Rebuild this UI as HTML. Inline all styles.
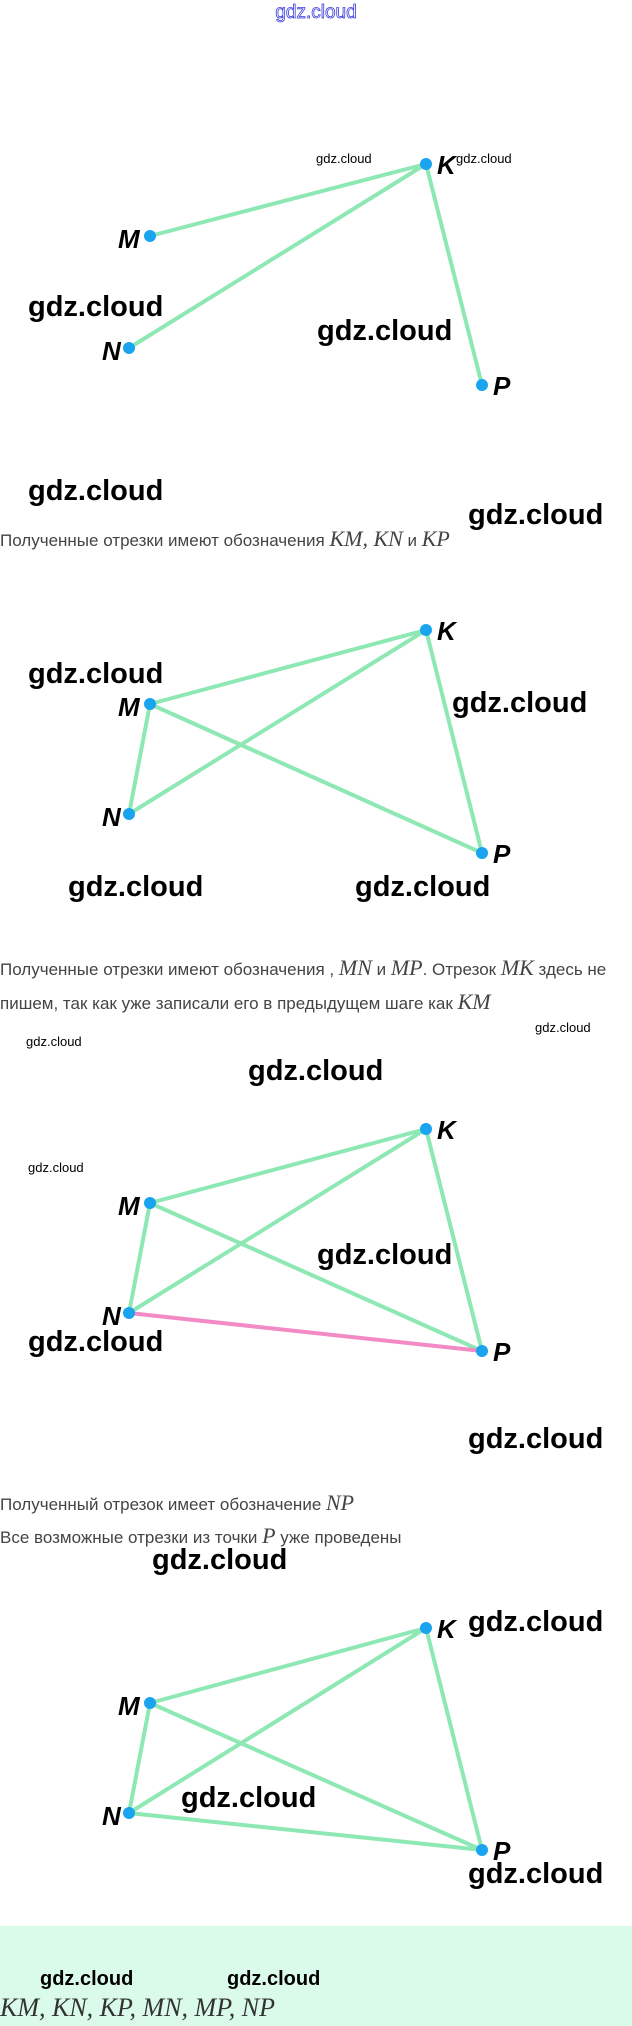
<!DOCTYPE html>
<html><head><meta charset="utf-8"><style>
html,body{margin:0;padding:0;background:#fff;width:632px;height:2026px;overflow:hidden}
svg{display:block}
.w{font-family:"Liberation Sans",sans-serif;font-weight:bold;font-size:29px;fill:#000}
.ws{font-family:"Liberation Sans",sans-serif;font-size:13px;fill:#000}
.l{font-family:"Liberation Sans",sans-serif;font-weight:bold;font-style:italic;font-size:26px;fill:#000}
.t{font-family:"Liberation Sans","Noto Sans CJK SC",sans-serif;font-size:17px;fill:#444}
.m{font-family:"Liberation Serif",serif;font-style:italic;font-size:22px;fill:#444}
.g{stroke:#8ee8b4;stroke-width:4;stroke-linecap:round}
.d{fill:#1aa3ee}
</style></head><body>
<svg width="632" height="2026" xmlns="http://www.w3.org/2000/svg">
<text x="316" y="18" text-anchor="middle" font-family="Liberation Sans,sans-serif" font-size="19" fill="#fff" stroke="#3a3adc" stroke-width="0.8">gdz.cloud</text>

<!-- Section 1 -->
<line class="g" x1="426" y1="164" x2="150" y2="236"/>
<line class="g" x1="426" y1="164" x2="129" y2="348"/>
<line class="g" x1="426" y1="164" x2="482" y2="385"/>
<circle class="d" cx="426" cy="164" r="6"/><circle class="d" cx="150" cy="236" r="6"/><circle class="d" cx="129" cy="348" r="6"/><circle class="d" cx="482" cy="385" r="6"/>
<text class="l" x="437" y="174">K</text><text class="l" x="118" y="248">M</text><text class="l" x="102" y="360">N</text><text class="l" x="493" y="395">P</text>
<text class="ws" x="316" y="163">gdz.cloud</text><text class="ws" x="456" y="163">gdz.cloud</text>
<text class="w" x="28" y="316">gdz.cloud</text><text class="w" x="317" y="340">gdz.cloud</text>
<text class="w" x="28" y="500">gdz.cloud</text><text class="w" x="468" y="524">gdz.cloud</text>
<text class="t" x="0" y="546">Полученные отрезки имеют обозначения <tspan class="m">KM, KN</tspan> и <tspan class="m">KP</tspan></text>

<!-- Section 2 -->
<line class="g" x1="426" y1="630" x2="150" y2="704"/>
<line class="g" x1="426" y1="630" x2="129" y2="814"/>
<line class="g" x1="426" y1="630" x2="482" y2="853"/>
<line class="g" x1="150" y1="704" x2="129" y2="814"/>
<line class="g" x1="150" y1="704" x2="482" y2="853"/>
<circle class="d" cx="426" cy="630" r="6"/><circle class="d" cx="150" cy="704" r="6"/><circle class="d" cx="129" cy="814" r="6"/><circle class="d" cx="482" cy="853" r="6"/>
<text class="l" x="437" y="640">K</text><text class="l" x="118" y="716">M</text><text class="l" x="102" y="826">N</text><text class="l" x="493" y="863">P</text>
<text class="w" x="28" y="683">gdz.cloud</text><text class="w" x="452" y="712">gdz.cloud</text>
<text class="w" x="68" y="896">gdz.cloud</text><text class="w" x="355" y="896">gdz.cloud</text>
<text class="t" x="0" y="975">Полученные отрезки имеют обозначения , <tspan class="m">MN</tspan> и <tspan class="m">MP</tspan>. Отрезок <tspan class="m">MK</tspan> здесь не</text>
<text class="t" x="0" y="1009">пишем, так как уже записали его в предыдущем шаге как <tspan class="m">KM</tspan></text>

<!-- Section 3 -->
<text class="ws" x="26" y="1046">gdz.cloud</text><text class="w" x="248" y="1080">gdz.cloud</text>
<text class="ws" x="535" y="1032">gdz.cloud</text><text class="ws" x="28" y="1172">gdz.cloud</text>
<line class="g" x1="426" y1="1129" x2="150" y2="1203"/>
<line class="g" x1="426" y1="1129" x2="129" y2="1313"/>
<line class="g" x1="426" y1="1129" x2="482" y2="1351"/>
<line class="g" x1="150" y1="1203" x2="129" y2="1313"/>
<line class="g" x1="150" y1="1203" x2="482" y2="1351"/>
<line x1="129" y1="1313" x2="482" y2="1351" stroke="#f28ac6" stroke-width="4" stroke-linecap="round"/>
<circle class="d" cx="426" cy="1129" r="6"/><circle class="d" cx="150" cy="1203" r="6"/><circle class="d" cx="129" cy="1313" r="6"/><circle class="d" cx="482" cy="1351" r="6"/>
<text class="l" x="437" y="1139">K</text><text class="l" x="118" y="1215">M</text><text class="l" x="102" y="1325">N</text><text class="l" x="493" y="1361">P</text>
<text class="w" x="317" y="1264">gdz.cloud</text><text class="w" x="28" y="1351">gdz.cloud</text>
<text class="w" x="468" y="1448">gdz.cloud</text>
<text class="t" x="0" y="1510">Полученный отрезок имеет обозначение <tspan class="m">NP</tspan></text>
<text class="t" x="0" y="1543">Все возможные отрезки из точки <tspan class="m">P</tspan> уже проведены</text>
<text class="w" x="152" y="1569">gdz.cloud</text>

<!-- Section 4 -->
<line class="g" x1="426" y1="1628" x2="150" y2="1703"/>
<line class="g" x1="426" y1="1628" x2="129" y2="1813"/>
<line class="g" x1="426" y1="1628" x2="482" y2="1850"/>
<line class="g" x1="150" y1="1703" x2="129" y2="1813"/>
<line class="g" x1="150" y1="1703" x2="482" y2="1850"/>
<line class="g" x1="129" y1="1813" x2="482" y2="1850"/>
<circle class="d" cx="426" cy="1628" r="6"/><circle class="d" cx="150" cy="1703" r="6"/><circle class="d" cx="129" cy="1813" r="6"/><circle class="d" cx="482" cy="1850" r="6"/>
<text class="l" x="437" y="1638">K</text><text class="l" x="118" y="1715">M</text><text class="l" x="102" y="1825">N</text><text class="l" x="493" y="1860">P</text>
<text class="w" x="468" y="1631">gdz.cloud</text><text class="w" x="181" y="1807">gdz.cloud</text>
<text class="w" x="468" y="1883">gdz.cloud</text>

<rect x="0" y="1926" width="632" height="100" fill="#dafbea"/>
<text class="w" x="40" y="1985" style="font-size:20px">gdz.cloud</text>
<text class="w" x="227" y="1985" style="font-size:20px">gdz.cloud</text>
<text class="m" x="0" y="2016" style="font-size:26px;fill:#333">KM, KN, KP, MN, MP, NP</text>
</svg>
</body></html>
